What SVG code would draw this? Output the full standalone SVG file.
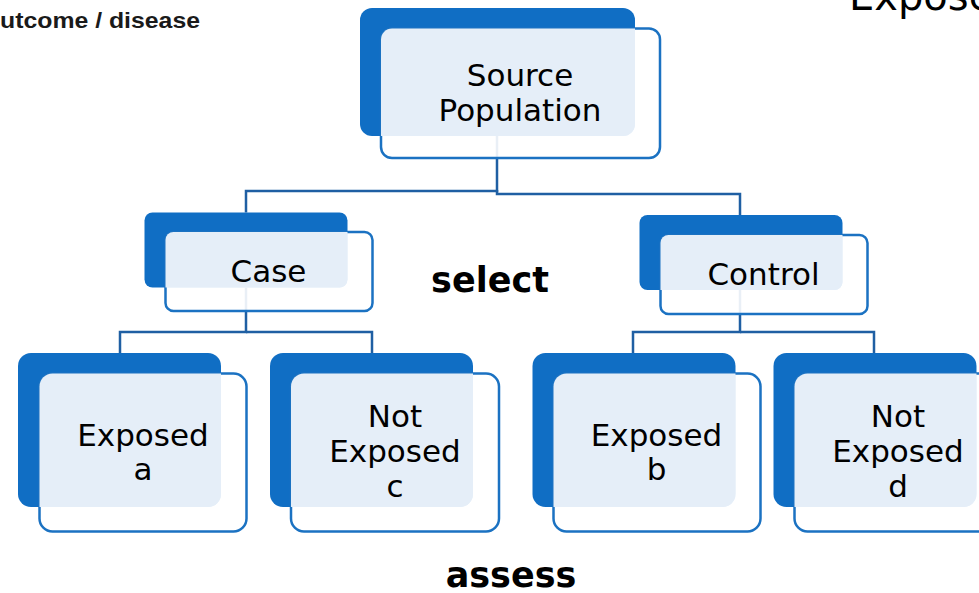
<svg xmlns="http://www.w3.org/2000/svg" width="979" height="593" viewBox="0 0 979 593">
  <style>
    .back { fill: #106EC4; }
    .frame { fill: #FFFFFF; fill-opacity: 0.9; stroke: #1B72C2; stroke-width: 2.5; }
    .face { fill: #E5EEF8; }
    .link { fill: none; stroke: #1F5FA3; stroke-width: 2.5; }
    .label { font-family: "DejaVu Sans", Verdana, sans-serif; font-size: 31px; fill: #000; text-anchor: middle; }
    .verb { font-family: "DejaVu Sans", Verdana, sans-serif; font-weight: bold; font-size: 35px; fill: #000; text-anchor: middle; }
  </style>
  <defs>
    <clipPath id="clip-source"><rect x="360" y="8" width="275" height="128" rx="12"/></clipPath>
    <clipPath id="clip-case"><rect x="144.5" y="212.5" width="203" height="75" rx="8"/></clipPath>
    <clipPath id="clip-control"><rect x="639.5" y="215" width="203" height="75" rx="8"/></clipPath>
    <clipPath id="clip-exp-a"><rect x="18" y="353" width="203" height="154" rx="13"/></clipPath>
    <clipPath id="clip-not-c"><rect x="270" y="353" width="203" height="154" rx="13"/></clipPath>
    <clipPath id="clip-exp-b"><rect x="532.5" y="353" width="203" height="154" rx="13"/></clipPath>
    <clipPath id="clip-not-d"><rect x="773.5" y="353" width="203" height="154" rx="13"/></clipPath>
  </defs>

  <rect width="979" height="593" fill="#FFFFFF"/>

  <!-- slide fragments at the edges -->
  <text x="0" y="28" font-family="'Liberation Sans', Arial, sans-serif" font-weight="bold" font-size="22" fill="#1a1a1a" textLength="200" lengthAdjust="spacingAndGlyphs">utcome / disease</text>
  <text x="849" y="10" font-family="'DejaVu Sans', Verdana, sans-serif" font-size="40" fill="#000">Expose</text>

  <!-- connectors -->
  <g id="connectors">
    <path class="link" d="M497,136 V191 H246 V212.5"/>
    <path class="link" d="M497,190 V194 H740 V215"/>
    <path class="link" d="M246,287.5 V332 H120 V353"/>
    <path class="link" d="M246,332 H372 V353"/>
    <path class="link" d="M740,290 V332 H633 V353"/>
    <path class="link" d="M740,332 H874 V353"/>
  </g>

  <g id="source-population">
    <rect class="back" x="360" y="8" width="275" height="128" rx="12"/>
    <rect class="frame" x="381" y="28.5" width="279" height="129.5" rx="11"/>
    <rect class="face" x="381" y="28.5" width="279" height="129.5" rx="11" clip-path="url(#clip-source)"/>
    <text class="label" x="520" y="86">Source</text>
    <text class="label" x="520" y="121">Population</text>
  </g>

  <g id="case">
    <rect class="back" x="144.5" y="212.5" width="203" height="75" rx="8"/>
    <rect class="frame" x="165.5" y="232" width="207" height="79" rx="8"/>
    <rect class="face" x="165.5" y="232" width="207" height="79" rx="8" clip-path="url(#clip-case)"/>
    <text class="label" x="268.5" y="282">Case</text>
  </g>

  <g id="control">
    <rect class="back" x="639.5" y="215" width="203" height="75" rx="8"/>
    <rect class="frame" x="660.5" y="235" width="207" height="79" rx="8"/>
    <rect class="face" x="660.5" y="235" width="207" height="79" rx="8" clip-path="url(#clip-control)"/>
    <text class="label" x="763.5" y="285">Control</text>
  </g>

  <g id="exposed-a">
    <rect class="back" x="18" y="353" width="203" height="154" rx="13"/>
    <rect class="frame" x="39.5" y="373.5" width="207" height="158" rx="13"/>
    <rect class="face" x="39.5" y="373.5" width="207" height="158" rx="13" clip-path="url(#clip-exp-a)"/>
    <text class="label" x="143" y="446">Exposed</text>
    <text class="label" x="143" y="480">a</text>
  </g>

  <g id="not-exposed-c">
    <rect class="back" x="270" y="353" width="203" height="154" rx="13"/>
    <rect class="frame" x="291" y="373.5" width="208" height="158" rx="13"/>
    <rect class="face" x="291" y="373.5" width="208" height="158" rx="13" clip-path="url(#clip-not-c)"/>
    <text class="label" x="395" y="427">Not</text>
    <text class="label" x="395" y="462">Exposed</text>
    <text class="label" x="395" y="497">c</text>
  </g>

  <g id="exposed-b">
    <rect class="back" x="532.5" y="353" width="203" height="154" rx="13"/>
    <rect class="frame" x="553.5" y="373.5" width="207" height="158" rx="13"/>
    <rect class="face" x="553.5" y="373.5" width="207" height="158" rx="13" clip-path="url(#clip-exp-b)"/>
    <text class="label" x="656.5" y="446">Exposed</text>
    <text class="label" x="656.5" y="480">b</text>
  </g>

  <g id="not-exposed-d">
    <rect class="back" x="773.5" y="353" width="203" height="154" rx="13"/>
    <rect class="frame" x="794.5" y="373.5" width="207" height="158" rx="13"/>
    <rect class="face" x="794.5" y="373.5" width="207" height="158" rx="13" clip-path="url(#clip-not-d)"/>
    <text class="label" x="898" y="427">Not</text>
    <text class="label" x="898" y="462">Exposed</text>
    <text class="label" x="898" y="497">d</text>
  </g>

  <text class="verb" x="490" y="292">select</text>
  <text class="verb" x="511" y="587" font-size="36">assess</text>
</svg>
